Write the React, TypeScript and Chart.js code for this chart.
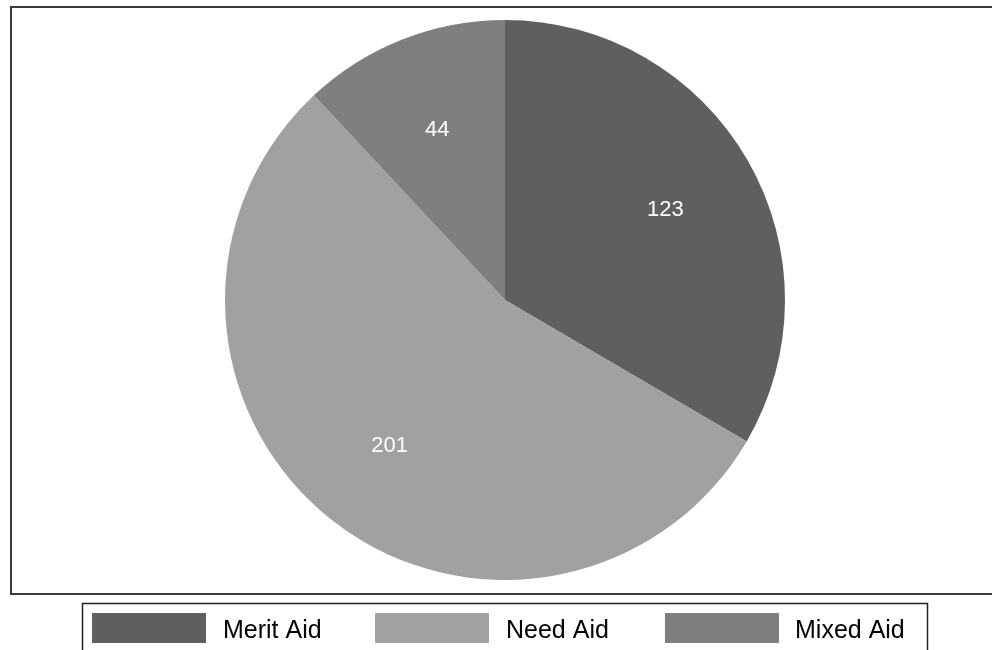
import React, { useEffect, useRef } from "react";
import { Chart, registerables } from "chart.js";

Chart.register(...registerables);

const categories = ["Merit Aid", "Need Aid", "Mixed Aid"];
const values = [123, 201, 44];
const colors = ["#5f5f5f", "#a1a1a1", "#7f7f7f"];

const FONT = '"Liberation Sans", Arial, Helvetica, sans-serif';

const framePlugin = {
  id: "frame",
  beforeDraw(chart: any) {
    const ctx = chart.ctx;
    ctx.save();
    ctx.fillStyle = "#ffffff";
    ctx.fillRect(0, 0, chart.width, chart.height);
    ctx.strokeStyle = "#3a3a3a";
    ctx.lineWidth = 2;
    ctx.strokeRect(11, 7, 1000, 587);
    ctx.lineWidth = 1.5;
    ctx.strokeStyle = "#222222";
    ctx.strokeRect(82.5, 603.5, 845, 80);
    ctx.restore();
  },
  afterDraw(chart: any) {
    const ctx = chart.ctx;
    const meta = chart.getDatasetMeta(0);
    ctx.save();
    ctx.fillStyle = "#ffffff";
    ctx.font = `22px ${FONT}`;
    ctx.textAlign = "center";
    ctx.textBaseline = "middle";
    meta.data.forEach((arc: any, i: number) => {
      const { x, y, startAngle, endAngle, outerRadius } = arc.getProps(
        ["x", "y", "startAngle", "endAngle", "outerRadius"],
        true
      );
      const mid = (startAngle + endAngle) / 2;
      const d = outerRadius * 0.66;
      ctx.fillText(String(values[i]), x + Math.cos(mid) * d, y + Math.sin(mid) * d + 2);
    });
    // legend
    const boxX = [92, 375, 665];
    const textX = [223, 506, 795];
    ctx.textAlign = "left";
    ctx.textBaseline = "alphabetic";
    ctx.font = `25px ${FONT}`;
    categories.forEach((c, i) => {
      ctx.fillStyle = colors[i];
      ctx.fillRect(boxX[i], 613, 114, 30);
      ctx.fillStyle = "#000000";
      ctx.fillText(c, textX[i], 638);
    });
    ctx.restore();
  },
};

export default function App() {
  const ref = useRef<HTMLCanvasElement | null>(null);
  useEffect(() => {
    document.body.style.margin = "0";
    if (!ref.current) return;
    const chart = new Chart(ref.current, {
      type: "pie",
      data: {
        labels: categories,
        datasets: [
          {
            data: values,
            backgroundColor: colors,
            borderWidth: 0,
          },
        ],
      },
      options: {
        responsive: false,
        animation: false,
        layout: { padding: { left: 225, right: 207, top: 20, bottom: 70 } },
        plugins: {
          legend: { display: false },
          tooltip: { enabled: false },
        },
      },
      plugins: [framePlugin],
    });
    return () => chart.destroy();
  }, []);
  return (
    <div style={{ width: 992, height: 650 }}>
      <canvas ref={ref} width={992} height={650} style={{ display: "block" }} />
    </div>
  );
}
